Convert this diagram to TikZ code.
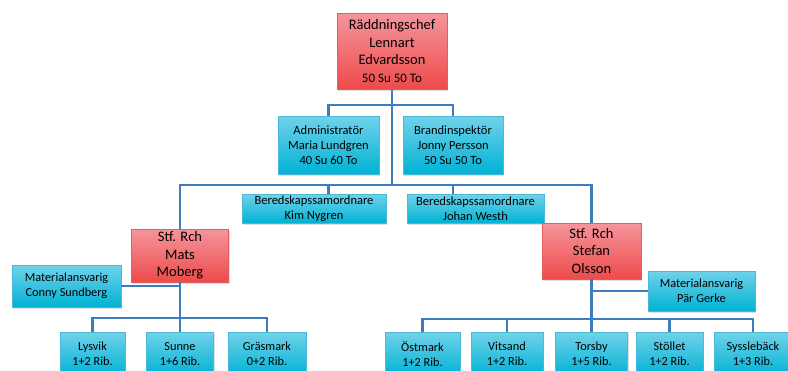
\documentclass[tikz,border=0pt]{standalone}
\usepackage{fontspec}
\setmainfont{Carlito}
\usepackage{tikz}
\usetikzlibrary{shadows}
\usepackage{xcolor}
\definecolor{redtop}{HTML}{F5959C}
\definecolor{redbot}{HTML}{EE4A4A}
\definecolor{redline}{HTML}{E06060}
\definecolor{cyantop}{HTML}{70D2EA}
\definecolor{cyanbot}{HTML}{00B2D4}
\definecolor{cyanline}{HTML}{4DB8D8}
\definecolor{linkblue}{HTML}{3C7DC0}

\begin{document}
\begin{tikzpicture}[x = 1pt, y = -1pt,
        chief/.style = {draw = redline, top color = redtop, bottom color = redbot, align = center, inner sep = 0pt,
            font = \fontsize{14.5}{17.5}\selectfont,
            drop shadow = {opacity = 0.25, shadow xshift = 1pt, shadow yshift = -1.5pt}},
        staff/.style = {draw = cyanline, top color = cyantop, bottom color = cyanbot, align = center, inner sep = 0pt,
            font = \fontsize{12.3}{15}\selectfont,
            drop shadow = {opacity = 0.25, shadow xshift = 1pt, shadow yshift = -1.5pt}},
        link/.style = {draw = linkblue, line width = 2.5pt}]
        \useasboundingbox (0, 0) rectangle (788, 370);
        \clip (0, 0) rectangle (788, 370);

        \node[chief, minimum width = 110pt, minimum height = 76pt] (rch) at (392, 51)
            {Räddningschef\\Lennart\\Edvardsson\\{\fontsize{13}{16}\selectfont 50 Su 50 To}};

        \node[staff, minimum width = 101pt, minimum height = 58pt, font = \fontsize{12.5}{15}\selectfont] (adm) at (328.5, 145)
            {Administratör\\Maria Lundgren\\40 Su 60 To};
        \node[staff, minimum width = 100pt, minimum height = 58pt, font = \fontsize{12.5}{15}\selectfont] (brand) at (453, 145)
            {Brandinspektör\\Jonny Persson\\50 Su 50 To};

        \node[staff, minimum width = 144pt, minimum height = 29pt, font = \fontsize{12.5}{14.5}\selectfont] (bered1) at (314, 208.5)
            {Beredskapssamordnare\\Kim Nygren};
        \node[staff, minimum width = 137pt, minimum height = 29pt, font = \fontsize{12.5}{14.5}\selectfont] (bered2) at (475.5, 208.5)
            {Beredskapssamordnare\\Johan Westh};

        \node[chief, minimum width = 97pt, minimum height = 53pt] (stf1) at (180, 255.5)
            {Stf. Rch\\Mats\\Moberg};
        \node[chief, minimum width = 99pt, minimum height = 56pt] (stf2) at (591.5, 251)
            {Stf. Rch\\Stefan\\Olsson};

        \node[staff, minimum width = 109pt, minimum height = 42pt] (mat1) at (66.5, 286)
            {Materialansvarig\\Conny Sundberg};
        \node[staff, minimum width = 107pt, minimum height = 40pt] (mat2) at (701.5, 291)
            {Materialansvarig\\Pär Gerke};

        % stationer
        \node[staff, minimum width = 65pt, minimum height = 44pt] (lysvik) at (92.5, 354) {Lysvik\\1+2 Rib.};
        \node[staff, minimum width = 67pt, minimum height = 44pt] (sunne) at (180, 354) {Sunne\\1+6 Rib.};
        \node[staff, minimum width = 78pt, minimum height = 44pt] (grasmark) at (267, 354) {Gräsmark\\0+2 Rib.};

        \node[staff, minimum width = 75pt, minimum height = 44pt] (ostmark) at (422.5, 354) {Östmark\\1+2 Rib.};
        \node[staff, minimum width = 72pt, minimum height = 44pt] (vitsand) at (507, 354) {Vitsand\\1+2 Rib.};
        \node[staff, minimum width = 72pt, minimum height = 44pt] (torsby) at (591.5, 354) {Torsby\\1+5 Rib.};
        \node[staff, minimum width = 67pt, minimum height = 44pt] (stollet) at (669.5, 354) {Stöllet\\1+2 Rib.};
        \node[staff, minimum width = 78pt, minimum height = 44pt] (syssle) at (753, 354) {Sysslebäck\\1+3 Rib.};

        \coordinate (bus1) at (392, 105);
        \coordinate (bus2) at (392, 185);
        \coordinate (bus3) at (180, 318);
        \coordinate (bus4) at (591.5, 319);

        \draw[link] (rch.south) -- (bus2);
        \draw[link] (adm.north) |- (bus1) -| (brand.north);
        \draw[link] (stf1.north) |- (bus2) -| (stf2.north);
        \draw[link] (bered1.north -| adm.south) -- (bus2 -| adm.south);
        \draw[link] (bered2.north -| brand.south) -- (bus2 -| brand.south);

        \draw[link] (stf1.south) -- (bus3);
        \draw[link] (mat1.east) -- (mat1.east -| stf1.south);
        \draw[link] (lysvik.north) |- (bus3) -| (grasmark.north);
        \draw[link] (sunne.north) -- (bus3);

        \draw[link] (stf2.south) -- (bus4);
        \draw[link] (mat2.west) -- (mat2.west -| stf2.south);
        \draw[link] (ostmark.north) |- (bus4) -| (syssle.north);
        \draw[link] (vitsand.north) -- (vitsand.north |- bus4);
        \draw[link] (torsby.north) -- (bus4);
        \draw[link] (stollet.north) -- (stollet.north |- bus4);

    \end{tikzpicture}
\end{document}
